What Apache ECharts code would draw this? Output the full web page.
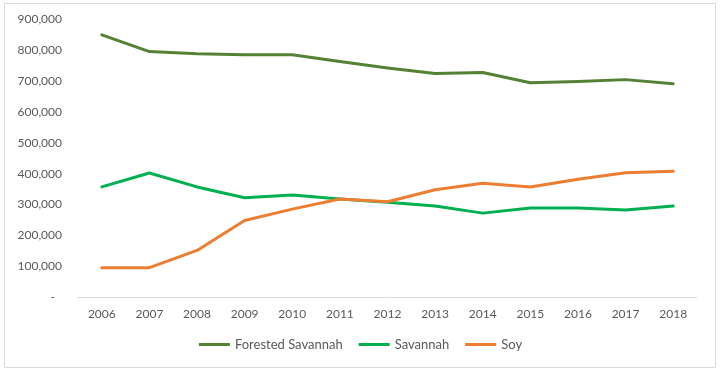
<!DOCTYPE html>
<html>
<head>
<meta charset="utf-8">
<script src="https://cdn.jsdelivr.net/npm/echarts@6/dist/echarts.min.js"></script>
<style>
html,body{margin:0;padding:0;background:#fff;}
#c{width:721px;height:373px;}
</style>
</head>
<body>
<div id="c"></div>
<script>
var years = ['2006','2007','2008','2009','2010','2011','2012','2013','2014','2015','2016','2017','2018'];
var forestedSavannah = [850000,796000,789000,786000,786000,764000,743000,725000,728000,695000,699000,705000,692000];
var savannah = [357000,402000,357000,322000,331000,318000,307000,295000,272000,289000,289000,282000,295000];
var soy = [95000,95000,151000,248000,285000,318000,309000,348000,369000,357000,382000,403000,408000];
var seriesNames = ['Forested Savannah','Savannah','Soy'];
var colors = ['#548235','#00B050','#ED7D31'];

var chart = echarts.init(document.getElementById('c'));
var font = 'Lato, "Open Sans", sans-serif';
function mk(name, data, color){
  return {name:name,type:'line',data:data,symbol:'none',smooth:false,
    lineStyle:{width:3,color:color,cap:'round',join:'round'},itemStyle:{color:color}};
}
chart.setOption({
  animation:false,
  graphic:[{type:'rect',shape:{x:4.5,y:3.5,width:711,height:364},style:{fill:'none',stroke:'#d9d9d9',lineWidth:1},silent:true}],
  grid:{left:78,right:24,top:19.5,bottom:76},
  legend:{
    bottom:17,left:'center',
    icon:'rect',itemWidth:31,itemHeight:3,itemGap:16,
    textStyle:{fontFamily:font,fontSize:13,color:'#595959'},
    data:seriesNames
  },
  xAxis:{
    type:'category',data:years,boundaryGap:true,
    axisLine:{lineStyle:{color:'#d9d9d9',width:1}},
    axisTick:{show:false},
    axisLabel:{fontFamily:font,fontSize:12,color:'#595959',margin:11}
  },
  yAxis:{
    type:'value',min:0,max:900000,interval:100000,
    axisLine:{show:false},axisTick:{show:false},splitLine:{show:false},
    axisLabel:{fontFamily:font,fontSize:12,color:'#595959',margin:16,
      formatter:function(v){ if(v===0) return '{d|-}'; return v.toLocaleString('en-US'); },
      rich:{d:{fontFamily:font,fontSize:12,color:'#595959',padding:[0,7,0,0]}}
    }
  },
  series:[mk(seriesNames[0],forestedSavannah,colors[0]),mk(seriesNames[1],savannah,colors[1]),mk(seriesNames[2],soy,colors[2])]
});
</script>
</body>
</html>
